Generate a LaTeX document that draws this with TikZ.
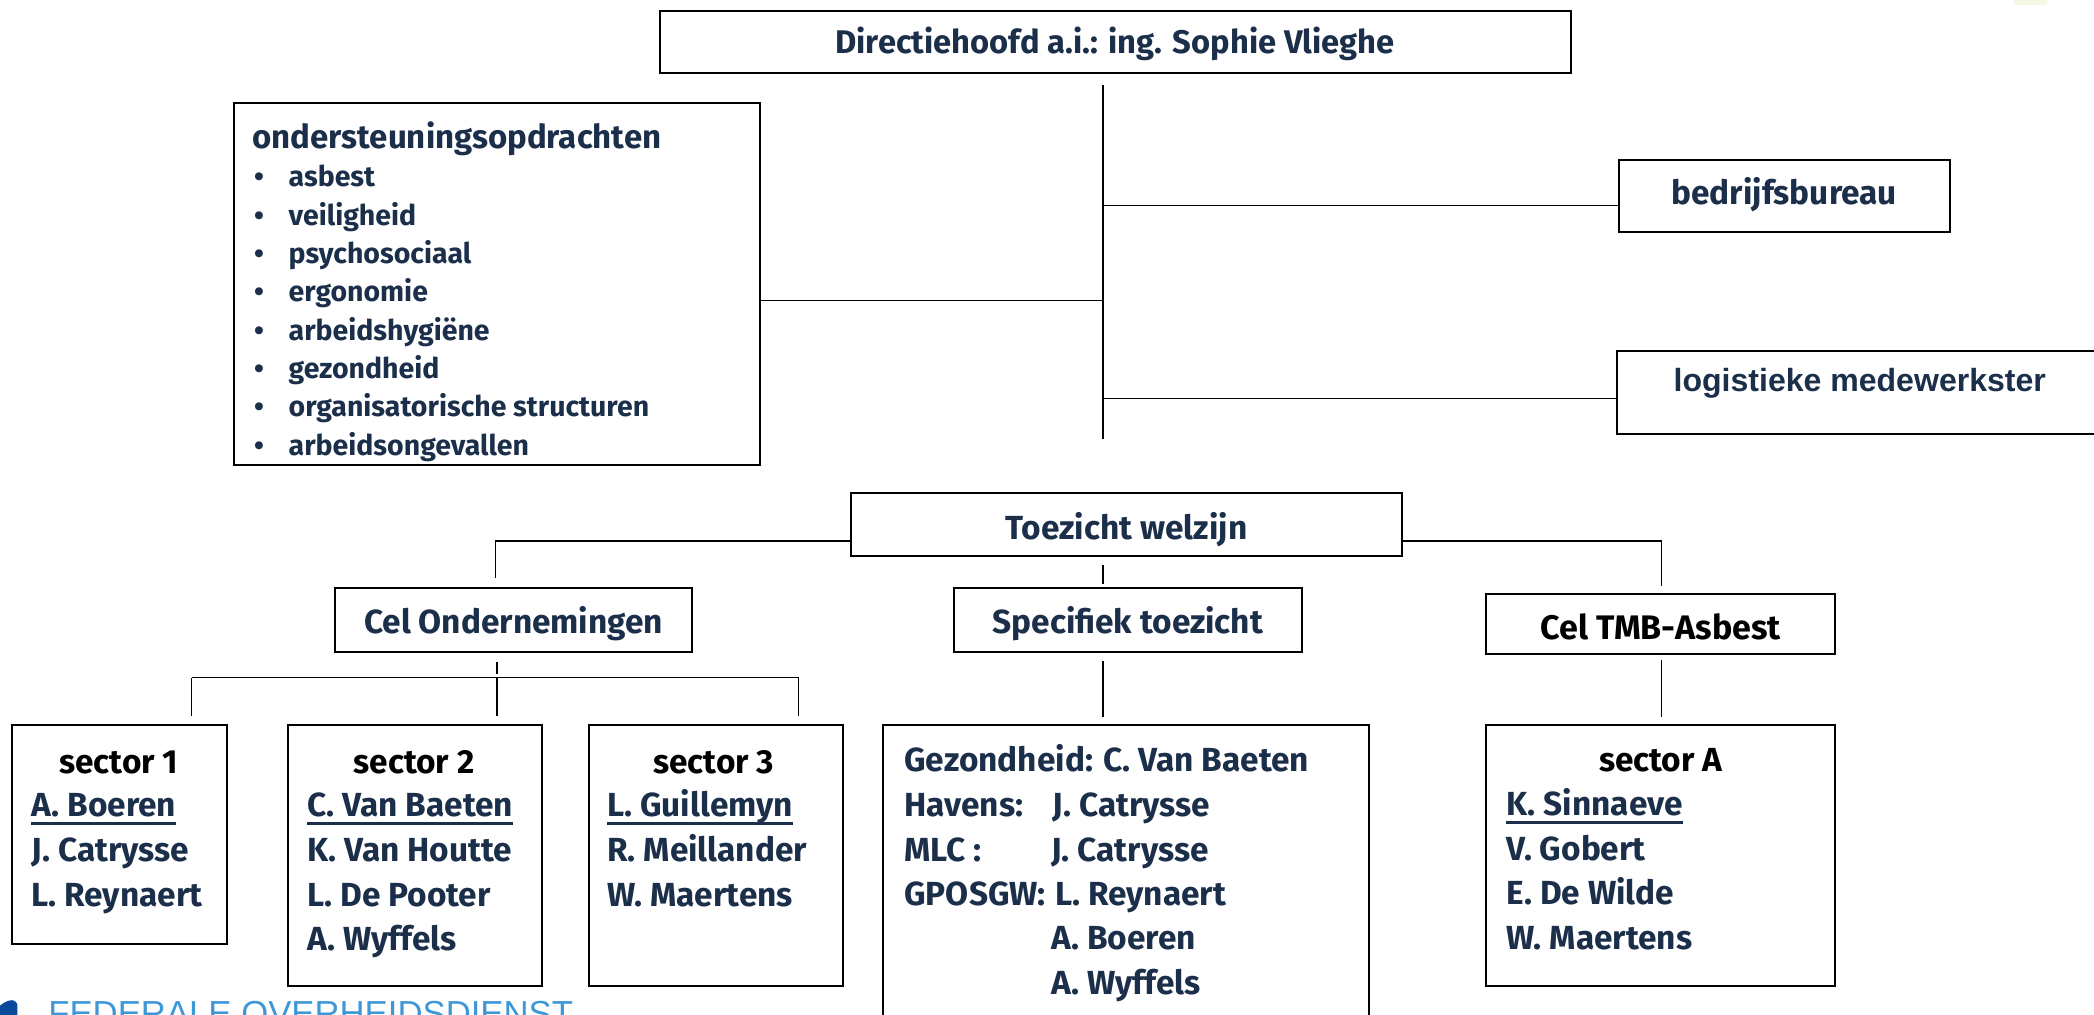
\documentclass[tikz,border=0pt]{standalone}
\usepackage{fontspec}
\setmainfont{Fira Sans}
\newfontfamily\arialfont{Liberation Sans}
\definecolor{navy}{HTML}{1B2F4A}
\definecolor{footblue}{HTML}{3E97D6}
\definecolor{logoblue}{HTML}{0B4A9B}
\definecolor{blobgreen}{HTML}{F3F8E4}
\begin{document}
\begin{tikzpicture}[x=1pt,y=-1pt,
  box/.style={draw=black, line width=1.5pt, inner sep=0pt, fill=white},
  conn/.style={draw=black, line width=1.1pt},
  txt/.style={inner sep=0pt, anchor=base, text=navy, font=\bfseries\fontsize{25}{30}\selectfont},
  txtl/.style={txt, anchor=base west},
  blk/.style={text=black},
  item/.style={txtl, font=\bfseries\fontsize{21.3}{26}\selectfont},
  bul/.style={txt, font=\bfseries\fontsize{21.3}{26}\selectfont},
  ulst/.style={draw=navy, line width=1.8pt}
]
\useasboundingbox (0,0) rectangle (1568,760);
\clip (0,0) rectangle (1568,760);

% decorations at the edges
\fill[blobgreen, rounded corners=2pt] (1508,-4) rectangle (1533,3.7);

% boxes
\node[box, minimum width=682pt, minimum height=47pt] (dir) at (835,31.5) {};
\node[box, minimum width=394pt, minimum height=271pt] (ond) at (372,212.5) {};
\node[box, minimum width=248pt, minimum height=54pt] (bed) at (1336,147) {};
\node[box, minimum width=389pt, minimum height=62pt] (log) at (1405.5,294) {};
\node[box, minimum width=413pt, minimum height=47pt] (toe) at (843.5,392.5) {};
\node[box, minimum width=267pt, minimum height=48pt] (celo) at (384.5,464) {};
\node[box, minimum width=261pt, minimum height=48pt] (spec) at (844.5,464) {};
\node[box, minimum width=261pt, minimum height=45pt] (tmb) at (1243.5,467.5) {};
\node[box, minimum width=161pt, minimum height=164pt] (s1) at (89.5,625) {};
\node[box, minimum width=190pt, minimum height=195pt] (s2) at (311,640.5) {};
\node[box, minimum width=190pt, minimum height=195pt] (s3) at (536,640.5) {};
\node[box, minimum width=364pt, minimum height=257pt] (specb) at (843,671.5) {};
\node[box, minimum width=261pt, minimum height=195pt] (sa) at (1243.5,640.5) {};

% connector coordinates
\coordinate (dtop) at (826,64);
\coordinate (dbot) at (826,329);
\coordinate (jo) at (826,225);
\coordinate (jb) at (826,154);
\coordinate (jl) at (826,298.5);
\coordinate (tl) at (371,405);
\coordinate (tlb) at (371,433);
\coordinate (tr) at (1244,405);
\coordinate (trb) at (1244,439);
\coordinate (tmt) at (826,423);
\coordinate (tmb2) at (826,437);
\coordinate (cot) at (372,496);
\coordinate (cob) at (372,505);
\coordinate (hl) at (143.5,507.5);
\coordinate (hm) at (372,507.5);
\coordinate (hr) at (598,507.5);
\coordinate (spt) at (826,495);
\coordinate (spb) at (826,537);
\coordinate (tmt2) at (1244,494);
\coordinate (tmbb) at (1244,537);

\draw[conn] (dtop) -- (dbot);
\draw[conn] (ond.east |- jo) -- (jo);
\draw[conn] (jb) -- (jb -| bed.west);
\draw[conn] (jl) -- (jl -| log.west);
\draw[conn] (toe.west |- tl) -| (tlb);
\draw[conn] (toe.east |- tr) -| (trb);
\draw[conn] (tmt) -- (tmb2);
\draw[conn] (cot) -- (cob);
\draw[conn] (hl) -- (hr);
\draw[conn] (hl) -- ([yshift=6pt]hl |- s1.north);
\draw[conn] (hm) -- ([yshift=6pt]hm |- s2.north);
\draw[conn] (hr) -- ([yshift=6pt]hr |- s3.north);
\draw[conn] (spt) -- (spb);
\draw[conn] (tmt2) -- (tmbb);

% texts: top part
\node[txt, font=\bfseries\fontsize{24.5}{30}\selectfont] (tdir) at (835,40) {Directiehoofd a.i.: ing. Sophie Vlieghe};
\node[txtl, font=\bfseries\fontsize{24.7}{30}\selectfont] (tond) at (189,111) {ondersteuningsopdrachten};
\foreach \t [count=\i from 0] in {asbest,veiligheid,psychosociaal,ergonomie,arbeidshygiëne,gezondheid,organisatorische structuren,arbeidsongevallen}{
  \node[bul] (b\i) at (194,140+28.7*\i) {\textbullet};
  \node[item] (it\i) at (216,140+28.7*\i) {\t};
}
\node[txt] (tbed) at (1336,153) {bedrijfsbureau};
\node[txtl, font=\arialfont\bfseries\fontsize{24}{28}\selectfont] (tlog) at (1253,293) {logistieke medewerkster};

% middle
\node[txt] (ttoe) at (843.5,404) {Toezicht welzijn};
\node[txt] (tcelo) at (384.5,474.5) {Cel Ondernemingen};
\node[txt] (tspec) at (844.5,474.5) {Specifiek toezicht};
\node[txt, blk, font=\bfseries\fontsize{25.5}{30}\selectfont] (ttmb) at (1243.5,479) {Cel TMB-Asbest};

% sector 1
\node[txt, blk] (s1t) at (89,579) {sector 1};
\node[txtl] (s1a) at (23.5,611.5) {A. Boeren};
\node[txtl] (s1b) at (23.5,645) {J. Catrysse};
\node[txtl] (s1c) at (23.5,678.5) {L. Reynaert};
\draw[ulst] ([yshift=-5pt]s1a.base west) -- ([yshift=-5pt]s1a.base east);

% sector 2
\node[txt, blk] (s2t) at (310,579) {sector 2};
\node[txtl] (s2a) at (230,611.5) {C. Van Baeten};
\node[txtl] (s2b) at (230,645) {K. Van Houtte};
\node[txtl] (s2c) at (230,678.5) {L. De Pooter};
\node[txtl] (s2d) at (230,712) {A. Wyffels};
\draw[ulst] ([yshift=-5pt]s2a.base west) -- ([yshift=-5pt]s2a.base east);

% sector 3
\node[txt, blk] (s3t) at (534.5,579) {sector 3};
\node[txtl] (s3a) at (454.5,611.5) {L. Guillemyn};
\node[txtl] (s3b) at (454.5,645) {R. Meillander};
\node[txtl] (s3c) at (454.5,678.5) {W. Maertens};
\draw[ulst] ([yshift=-5pt]s3a.base west) -- ([yshift=-5pt]s3a.base east);

% specifiek toezicht
\node[txtl] (g1) at (677,578) {Gezondheid: C. Van Baeten};
\node[txtl] (g2) at (677,611.5) {Havens:};
\node[txtl] (g2b) at (788,611.5) {J. Catrysse};
\node[txtl] (g3) at (677,645) {MLC :};
\node[txtl] (g3b) at (787,645) {J. Catrysse};
\node[txtl] (g4) at (677,678) {GPOSGW:};
\node[txtl] (g4b) at (790,678) {L. Reynaert};
\node[txtl] (g5) at (787,711) {A. Boeren};
\node[txtl] (g6) at (787,745) {A. Wyffels};

% sector A
\node[txt, blk] (sat) at (1243.5,578) {sector A};
\node[txtl] (saa) at (1128,611) {K. Sinnaeve};
\node[txtl] (sab) at (1128,644) {V. Gobert};
\node[txtl] (sac) at (1128,677.5) {E. De Wilde};
\node[txtl] (sad) at (1128,711) {W. Maertens};
\draw[ulst] ([yshift=-5pt]saa.base west) -- ([yshift=-5pt]saa.base east);

% footer
\fill[logoblue] (0,761) -- (0,753) .. controls (4,749.5) and (9,748) .. (11,749.5) .. controls (13,751) .. (13,755) -- (13,761) -- cycle;
\node[inner sep=0pt, anchor=north west, text=footblue, font=\arialfont\fontsize{26}{30}\selectfont] (foot) at (36,749.5) {FEDERALE OVERHEIDSDIENST};
\end{tikzpicture}
\end{document}
